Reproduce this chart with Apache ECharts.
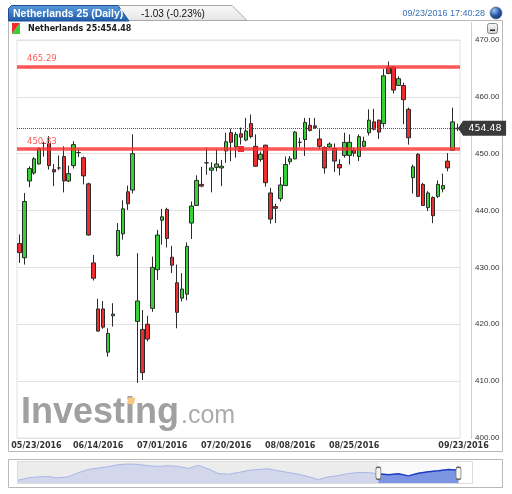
<!DOCTYPE html>
<html>
<head>
<meta charset="utf-8">
<script src="https://cdn.jsdelivr.net/npm/echarts@6.0.0/dist/echarts.min.js"></script>
<style>
html, body { margin: 0; padding: 0; background: #fff; }
#main { width: 512px; height: 494px; }
</style>
</head>
<body>
<div id="main"></div>
<script>
// trading days shown on the chart
var dates = [
  '05/23/2016','05/24/2016','05/25/2016','05/26/2016','05/27/2016','05/30/2016','05/31/2016',
  '06/01/2016','06/02/2016','06/03/2016','06/06/2016','06/07/2016','06/08/2016','06/09/2016','06/10/2016',
  '06/13/2016','06/14/2016','06/15/2016','06/16/2016','06/17/2016','06/20/2016','06/21/2016','06/22/2016','06/23/2016','06/24/2016',
  '06/27/2016','06/28/2016','06/29/2016','06/30/2016','07/01/2016','07/04/2016','07/05/2016','07/06/2016','07/07/2016','07/08/2016',
  '07/11/2016','07/12/2016','07/13/2016','07/14/2016','07/15/2016','07/18/2016','07/19/2016','07/20/2016','07/21/2016','07/22/2016',
  '07/25/2016','07/26/2016','07/27/2016','07/28/2016','07/29/2016','08/01/2016','08/02/2016','08/03/2016','08/04/2016','08/05/2016',
  '08/08/2016','08/09/2016','08/10/2016','08/11/2016','08/12/2016','08/15/2016','08/16/2016','08/17/2016','08/18/2016','08/19/2016',
  '08/22/2016','08/23/2016','08/24/2016','08/25/2016','08/26/2016','08/29/2016','08/30/2016','08/31/2016','09/01/2016','09/02/2016',
  '09/05/2016','09/06/2016','09/07/2016','09/08/2016','09/09/2016','09/12/2016','09/13/2016','09/14/2016','09/15/2016','09/16/2016',
  '09/19/2016','09/20/2016','09/21/2016','09/22/2016','09/23/2016'
];
var tickDates = ['05/23/2016','06/14/2016','07/01/2016','07/20/2016','08/08/2016','08/25/2016','09/23/2016'];

var openP = [
  434.2, 431.7, 445.2, 446.6, 448.2, 451.8, 451.8, 447.2, 447.5, 449.5,
  445.2, 447.9, 450.2, 449.3, 444.7, 430.8, 422.7, 422.7, 415.1, 421.5,
  432.1, 435.9, 443.3, 443.6, 420.5, 419.1, 420.0, 422.8, 429.6, 438.3,
  440.2, 431.8, 427.3, 424.6, 425.3, 437.8, 440.9, 444.6, 448.4, 447.1,
  447.6, 447.5, 450.5, 453.7, 451.2, 453.5, 452.4, 455.3, 451.3, 449.0,
  451.5, 443.1, 440.7, 442.1, 444.4, 448.6, 449.1, 452.0, 452.5, 455.0,
  454.9, 452.6, 451.1, 451.2, 450.9, 448.1, 449.7, 449.7, 450.6, 449.5,
  451.3, 453.7, 455.6, 455.9, 455.3, 465.2, 465.2, 462.0, 462.0, 457.8,
  445.8, 449.9, 444.6, 440.5, 442.3, 442.5, 443.8, 448.7, 450.6, 454.4
];
var closeP = [
  432.6, 441.6, 447.4, 449.1, 450.9, 451.8, 447.9, 446.8, 447.5, 445.2,
  446.5, 451.6, 450.2, 446.1, 435.7, 428.1, 418.8, 419.5, 418.4, 421.8,
  436.5, 440.3, 441.2, 450.0, 424.1, 411.5, 417.4, 430.0, 435.7, 438.9,
  435.1, 430.4, 422.1, 426.2, 433.7, 440.8, 445.3, 444.3, 448.4, 447.5,
  448.2, 447.8, 452.1, 452.0, 453.4, 452.9, 454.0, 453.0, 447.8, 449.9,
  444.9, 438.5, 440.4, 444.5, 448.1, 449.1, 453.8, 452.0, 455.5, 454.1,
  454.6, 451.3, 447.5, 451.7, 448.7, 447.5, 452.0, 452.0, 450.1, 453.0,
  452.2, 455.9, 454.3, 453.8, 463.7, 464.1, 461.2, 463.2, 459.5, 452.8,
  447.7, 442.5, 440.9, 443.1, 439.1, 444.6, 444.4, 447.5, 455.6, 454.48
];
var lowP = [
  430.8, 430.5, 444.1, 446.3, 448.1, 449.5, 447.2, 444.3, 447.1, 443.2,
  445.0, 447.4, 449.4, 444.6, 435.6, 427.7, 418.7, 419.2, 414.3, 419.6,
  431.9, 434.9, 440.1, 443.0, 409.7, 410.2, 417.0, 422.2, 427.8, 434.0,
  433.5, 429.0, 419.3, 424.0, 424.2, 435.0, 440.8, 444.1, 446.3, 443.2,
  446.9, 444.3, 448.4, 448.7, 449.3, 451.6, 452.2, 452.7, 447.7, 448.6,
  444.2, 437.7, 437.8, 441.6, 444.3, 448.1, 449.0, 451.2, 449.6, 453.9,
  454.4, 450.8, 446.5, 451.0, 446.8, 446.2, 449.3, 448.1, 449.5, 448.7,
  451.1, 453.2, 454.1, 452.6, 454.6, 464.0, 460.6, 461.9, 455.2, 451.6,
  443.0, 442.4, 440.8, 439.9, 437.8, 442.2, 443.2, 446.9, 450.5, 454.0
];
var highP = [
  435.8, 443.1, 447.8, 449.4, 451.1, 452.1, 453.1, 448.2, 449.7, 451.3,
  447.9, 452.2, 450.9, 449.5, 444.9, 432.2, 424.5, 424.1, 419.3, 423.7,
  437.8, 441.8, 444.4, 453.4, 432.5, 422.5, 421.5, 431.9, 436.6, 440.3,
  440.5, 433.8, 430.5, 429.0, 434.4, 441.6, 446.2, 447.7, 451.1, 448.5,
  450.8, 448.9, 453.7, 454.4, 453.8, 454.6, 456.3, 456.9, 453.4, 450.4,
  451.6, 444.0, 441.2, 445.9, 449.5, 449.6, 454.0, 452.8, 456.3, 456.3,
  456.3, 454.3, 451.3, 452.0, 451.8, 449.0, 453.7, 453.4, 451.1, 453.4,
  453.0, 457.8, 457.9, 456.0, 464.9, 466.2, 465.4, 463.6, 462.5, 458.1,
  448.1, 450.1, 444.9, 443.4, 442.5, 445.3, 446.5, 450.1, 458.1, 455.3
];

var levels = [465.29, 450.83];   // drawn horizontal lines
var lastPrice = 454.48;

// overview strip under the chart (longer history, unitless height)
var navValues = [8, 15, 18, 19, 15, 18, 30, 40, 44, 48, 54, 56, 55, 51, 49, 51, 49, 43, 52, 42,
  28, 26, 31, 37, 40, 42, 36, 31, 26, 19, 10, 18, 22, 28, 31, 31, 27, 24, 27, 21, 29, 33, 36, 40, 38];
var navSelStart = 36;

var candles = dates.map(function (d, i) {
  return [openP[i], closeP[i], lowP[i], highP[i]];
});
var navIdx = navValues.map(function (v, i) { return i; });
var navSel = navValues.map(function (v, i) { return i >= navSelStart ? v : '-'; });

var chart = echarts.init(document.getElementById('main'));
var lblFont = { fontFamily: 'DejaVu Sans', fontWeight: 'bold', fontSize: 8, color: '#333' };

chart.setOption({
  animation: false,
  backgroundColor: '#fff',
  grid: [
    { left: 17, right: 52, top: 40, bottom: 56, show: true, backgroundColor: '#fff', borderColor: '#e0e0e0', borderWidth: 1 },
    { left: 18, right: 53.5, top: 462, bottom: 11, show: true, backgroundColor: '#ececec', borderWidth: 0 }
  ],
  xAxis: [
    {
      type: 'category', data: dates, gridIndex: 0, boundaryGap: true,
      axisLine: { show: false }, axisTick: { show: false }, splitLine: { show: false },
      axisLabel: {
        margin: 4,
        fontFamily: 'DejaVu Sans', fontWeight: 'bold', fontSize: 8, color: '#333',
        interval: function (i, v) { return tickDates.indexOf(v) >= 0; },
        formatter: function (v, i) {
          if (i === 0) return '{first|' + v + '}';
          if (i === dates.length - 1) return '{last|' + v + '}';
          return v;
        },
        rich: {
          first: Object.assign({ padding: [0, 0, 0, 34] }, lblFont),
          last: Object.assign({ padding: [0, 0, 0, 12] }, lblFont)
        }
      }
    },
    { type: 'category', data: navIdx, gridIndex: 1, boundaryGap: false, show: false }
  ],
  yAxis: [
    {
      type: 'value', gridIndex: 0, position: 'right', min: 400, max: 470, interval: 10,
      axisLine: { show: false }, axisTick: { show: false },
      splitLine: { lineStyle: { color: '#e2e2e2' } },
      axisLabel: {
        margin: 15, fontFamily: 'Liberation Sans', fontSize: 8, color: '#333',
        formatter: function (v) { return v.toFixed(2); }
      }
    },
    { type: 'value', gridIndex: 1, min: 0, max: 62, show: false }
  ],
  graphic: [
    // main panel frame
    { type: 'rect', silent: true, shape: { x: 8.5, y: 20.5, width: 494, height: 431 },
      style: { fill: 'none', stroke: '#b8b8b8', lineWidth: 1 } },
    // second tab
    { type: 'polygon', silent: true, shape: { points: [[118, 20.5], [118, 5.5], [232, 5.5], [247, 20.5]] },
      style: { fill: new echarts.graphic.LinearGradient(0, 0, 0, 1, [{ offset: 0, color: '#fbfbfb' }, { offset: 1, color: '#e4e4e4' }]),
        stroke: '#a9a9a9', lineWidth: 1 } },
    // blue tab
    { type: 'polygon', silent: true, shape: { points: [[8.5, 21], [8.5, 8.5], [11.5, 5.5], [118, 5.5], [129, 21]] },
      style: { fill: new echarts.graphic.LinearGradient(0, 0, 0, 1, [{ offset: 0, color: '#5d9be0' }, { offset: 1, color: '#1c5aa6' }]),
        stroke: '#1d4f95', lineWidth: 1 } },
    { type: 'text', silent: true, style: { text: 'Netherlands 25 (Daily)', x: 13, y: 14, verticalAlign: 'middle',
      fontFamily: 'Liberation Sans', fontWeight: 'bold', fontSize: 10.5, fill: '#fff' } },
    { type: 'text', silent: true, style: { text: '-1.03 (-0.23%)', x: 141, y: 14, verticalAlign: 'middle',
      fontFamily: 'Liberation Sans', fontSize: 10, fill: '#111' } },
    { type: 'text', silent: true, style: { text: '09/23/2016 17:40:28', x: 485, y: 14, align: 'right', verticalAlign: 'middle',
      fontFamily: 'Liberation Sans', fontSize: 9, fill: '#3a6fb4' } },
    { type: 'circle', silent: true, shape: { cx: 496, cy: 13, r: 6 },
      style: { fill: new echarts.graphic.RadialGradient(0.35, 0.3, 0.8, [{ offset: 0, color: '#9ec3f0' }, { offset: 0.5, color: '#2c5fae' }, { offset: 1, color: '#0d2a5c' }]),
        stroke: '#5a6f8c', lineWidth: 0.8 } },
    // legend row
    { type: 'polygon', silent: true, shape: { points: [[12, 23], [20, 23], [12, 34]] }, style: { fill: '#ee2e2e' } },
    { type: 'polygon', silent: true, shape: { points: [[20, 23], [20, 34], [12, 34]] }, style: { fill: '#37d037' } },
    { type: 'text', silent: true, style: { text: 'Netherlands 25:454.48', x: 28, y: 29, verticalAlign: 'middle',
      fontFamily: 'DejaVu Sans', fontWeight: 'bold', fontSize: 8, fill: '#1a1a1a' } },
    { type: 'rect', silent: true, shape: { x: 487.5, y: 23.5, width: 10, height: 10, r: 2 },
      style: { fill: new echarts.graphic.LinearGradient(0, 0, 0, 1, [{ offset: 0, color: '#fafafa' }, { offset: 1, color: '#cfcfcf' }]),
        stroke: '#8a8a8a', lineWidth: 1 } },
    { type: 'rect', silent: true, shape: { x: 490, y: 29.5, width: 5, height: 1.5 }, style: { fill: '#222' } },
    // divider between plot and price scale
    { type: 'line', silent: true, shape: { x1: 471.5, y1: 22, x2: 471.5, y2: 439 }, style: { stroke: '#cfcfcf', lineWidth: 1 } },
    // watermark
    { type: 'text', silent: true, style: { text: 'Investing', x: 21, y: 413, verticalAlign: 'middle',
      fontFamily: 'Liberation Sans', fontWeight: 'bold', fontSize: 36, fill: '#a0a0a0' } },
    { type: 'polygon', silent: true, shape: { points: [[127, 404], [128.5, 397.5], [135.5, 397.5], [134, 404]] },
      style: { fill: '#f6c883' } },
    { type: 'text', silent: true, style: { text: '.com', x: 181, y: 416.5, verticalAlign: 'middle',
      fontFamily: 'Liberation Sans', fontSize: 25, fill: '#ababab' } },
    // overview panel frame
    { type: 'rect', silent: true, shape: { x: 8.5, y: 459.5, width: 494, height: 28 },
      style: { fill: 'none', stroke: '#b8b8b8', lineWidth: 1 } },
    { type: 'rect', silent: true, shape: { x: 17.5, y: 461.5, width: 455, height: 22 },
      style: { fill: 'none', stroke: '#dcdcdc', lineWidth: 1 } }
  ],
  series: [
    {
      type: 'candlestick',
      xAxisIndex: 0, yAxisIndex: 0,
      data: candles,
      barWidth: 4,
      itemStyle: { color: '#37d037', color0: '#ee2e2e', borderColor: '#2b2b2b', borderColor0: '#2b2b2b', borderWidth: 1 },
      markLine: {
        silent: true, symbol: 'none', animation: false,
        data: [
          { yAxis: levels[0], lineStyle: { color: 'rgba(255,45,45,0.8)', width: 3.5, type: 'solid' },
            label: { show: true, position: 'insideStartTop', distance: [10, 3], formatter: levels[0].toFixed(2),
              color: '#ff5a5a', fontFamily: 'DejaVu Sans', fontSize: 8.5 } },
          { yAxis: levels[1], lineStyle: { color: 'rgba(255,45,45,0.8)', width: 3.5, type: 'solid' },
            label: { show: true, position: 'insideStartTop', distance: [10, 3], formatter: levels[1].toFixed(2),
              color: '#ff5a5a', fontFamily: 'DejaVu Sans', fontSize: 8.5 } },
          { yAxis: lastPrice, lineStyle: { color: '#555', width: 1, type: 'dotted' }, label: { show: false } }
        ]
      },
      markPoint: {
        silent: true, animation: false,
        data: [
          { coord: [dates[dates.length - 1], lastPrice], value: lastPrice,
            symbol: 'path://M0,7.5 L5,0 L48,0 L48,15 L5,15 Z', symbolSize: [48, 15], symbolOffset: [24.5, 0],
            itemStyle: { color: '#3a3a3a' },
            label: { show: true, position: 'inside', offset: [3, 0], formatter: lastPrice.toFixed(2),
              color: '#fff', fontFamily: 'DejaVu Sans', fontSize: 9.5 } },
          { coord: [dates[45], levels[1]], symbol: 'rect', symbolSize: [6, 6],
            itemStyle: { color: '#f03030' }, label: { show: false } }
        ]
      }
    },
    {
      type: 'line', xAxisIndex: 1, yAxisIndex: 1, data: navValues, silent: true,
      symbol: 'none', lineStyle: { color: '#a9b6e6', width: 1 },
      areaStyle: { color: '#d2d7ec', opacity: 1 },
      markArea: { silent: true, itemStyle: { color: '#fafafa' },
        data: [[{ xAxis: navSelStart }, { xAxis: navValues.length - 1 }]] }
    },
    {
      type: 'line', xAxisIndex: 1, yAxisIndex: 1, data: navSel, silent: true,
      symbol: 'none', lineStyle: { color: '#1d3cc4', width: 1.5 },
      areaStyle: { color: '#7d96e4', opacity: 1 },
      markPoint: {
        silent: true, symbol: 'roundRect', symbolSize: [5, 12],
        itemStyle: { color: '#f2f2f2', borderColor: '#666', borderWidth: 1 },
        label: { show: false },
        data: [{ coord: [navSelStart, 29] }, { coord: [navValues.length - 1, 29] }]
      }
    }
  ]
});
</script>
</body>
</html>
